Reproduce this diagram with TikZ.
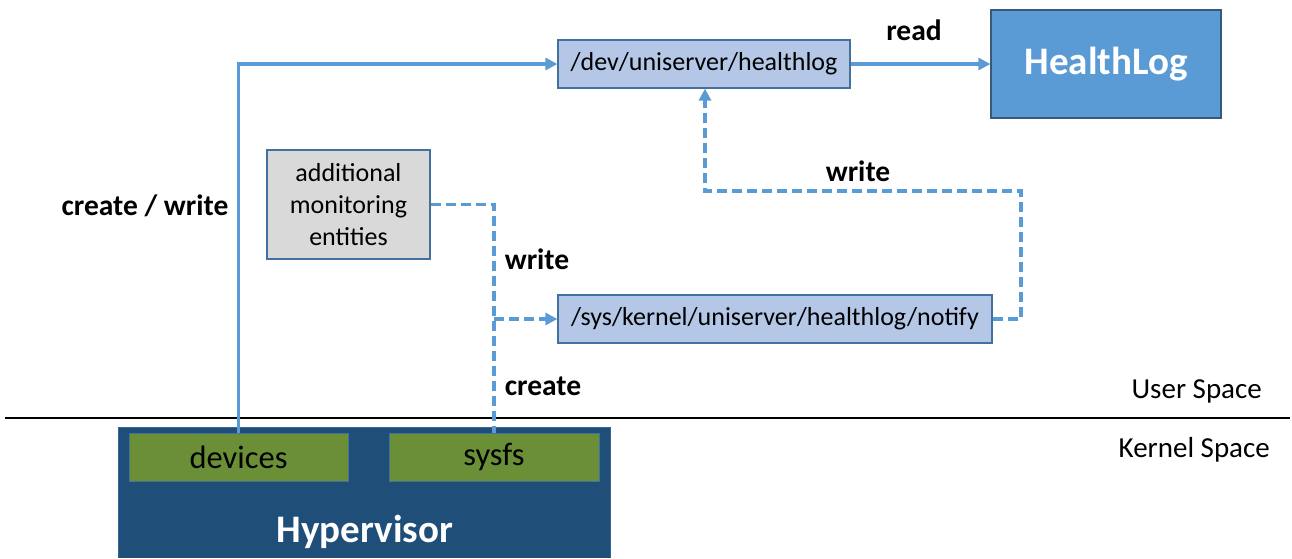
\documentclass[tikz,border=0pt]{standalone}
\usepackage{fontspec}
\setmainfont{Carlito}
\usetikzlibrary{arrows.meta,positioning}
\definecolor{lineblue}{HTML}{5B9BD5}
\definecolor{boxblue}{HTML}{B4C7E7}
\definecolor{edgeblue}{HTML}{41719C}
\definecolor{hlblue}{HTML}{5B9BD5}
\definecolor{hypblue}{HTML}{1F4E79}
\definecolor{greenbox}{HTML}{6A8F37}
\definecolor{greybox}{HTML}{D9D9D9}
\tikzset{
  txt/.style={font=\fontsize{26}{31}\selectfont},
  sidetxt/.style={font=\fontsize{29}{34}\selectfont, inner sep=0pt},
  boldlbl/.style={font=\fontsize{29.5}{34}\selectfont\bfseries, inner sep=0pt},
  filebox/.style={draw=edgeblue, line width=1.2pt, fill=boxblue, txt, minimum height=48pt, inner sep=0pt},
  greenrect/.style={draw=edgeblue, line width=1pt, fill=greenbox, font=\fontsize{32.5}{38}\selectfont, minimum height=48pt, inner sep=0pt},
  conn/.style={draw=lineblue, line width=3.6pt},
  dconn/.style={conn, dash pattern=on 10pt off 5pt},
  tip/.style={-{Triangle[length=12pt,width=12pt]}},
}
\begin{document}
\begin{tikzpicture}[x=1pt,y=-1pt]
\useasboundingbox (0,0) rectangle (1292,558);
% separator
\draw[line width=1.5pt] (5,418) -- (1290,418);
\node[sidetxt, anchor=east] (user) at (1262,391) {User Space};
\node[sidetxt, anchor=east] (kernel) at (1270,450) {Kernel Space};
% hypervisor
\fill[hypblue] (118,427) rectangle (610,558);
\draw[draw=edgeblue!70!hypblue, line width=1pt] (118,558) -- (118,427) -- (610,427) -- (610,558);
\node[font=\fontsize{39}{44}\selectfont\bfseries, text=white, inner sep=0pt] (hyp) at (365,532) {Hypervisor};
\node[greenrect, minimum width=219pt] (devices) at (238.5,457) {devices};
\node[greenrect, minimum width=210pt] (sysfs) at (494,457) {sysfs};
% user space boxes
\node[filebox, minimum width=292pt] (dev) at (704,64) {/dev/uniserver/healthlog};
\node[filebox, minimum width=434pt] (notify) at (775,319) {/sys/kernel/uniserver/healthlog/notify};
\node[draw=edgeblue!80!black, line width=1.2pt, fill=hlblue, text=white,
      font=\fontsize{39}{44}\selectfont\bfseries, minimum width=230pt, minimum height=108pt, inner sep=0pt] (hl) at (1106,64) {HealthLog};
\node[draw=edgeblue, line width=1.2pt, fill=greybox, txt, minimum width=163pt, minimum height=109pt,
      inner sep=0pt, align=center, font=\fontsize{26}{32}\selectfont] (addl) at (348.5,204.5) {additional\\monitoring\\entities};
% labels
\node[boldlbl] (lread) at (914,30) {read};
\node[boldlbl] (lcw) at (145,206) {create / write};
\node[boldlbl] (lw1) at (537,259) {write};
\node[boldlbl] (lcr) at (543,386) {create};
\node[boldlbl] (lw2) at (858,171) {write};
% connectors
\draw[conn, tip] (devices.north) |- (dev.west);
\draw[conn, tip] (dev.east) -- (hl.west);
\coordinate (br) at (494,319);
\draw[dconn] (addl.east) -| (sysfs.north);
\draw[dconn, tip] (br) -- (notify.west);
\coordinate (rc) at (1021,191);
\coordinate (tc) at (705,191);
\draw[dconn, tip] (notify.east) -| (rc) -- (tc) -- (tc |- dev.south);
\end{tikzpicture}
\end{document}
